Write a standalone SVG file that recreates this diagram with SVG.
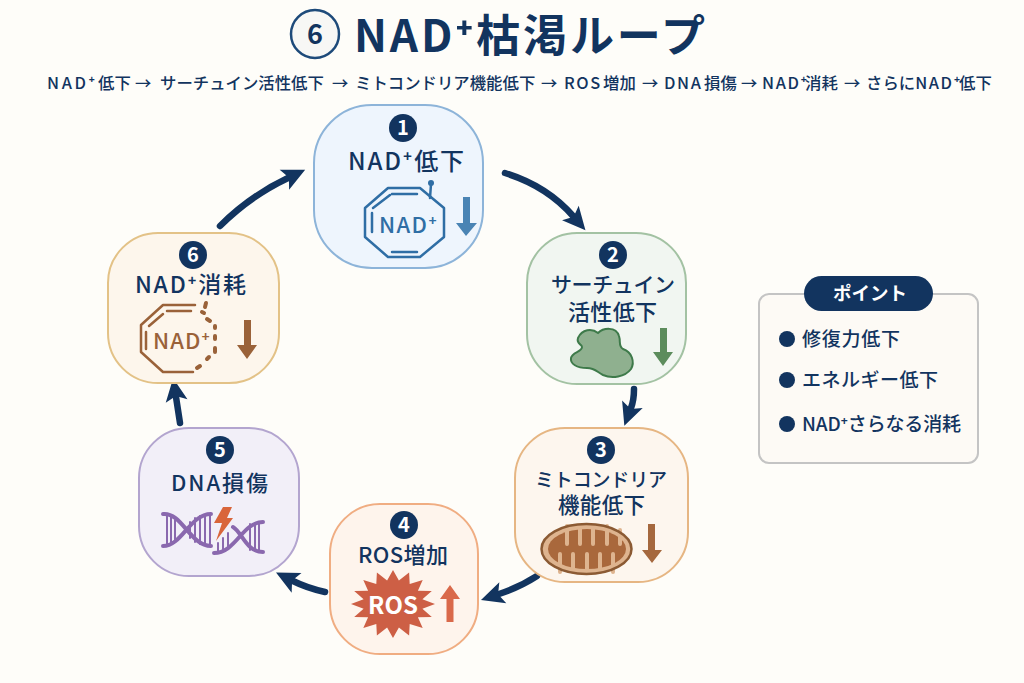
<svg xmlns="http://www.w3.org/2000/svg" width="1024" height="683" viewBox="0 0 1024 683">
<style>
text{font-family:"Noto Sans CJK JP","Noto Sans",sans-serif;fill:#12345f}
.lb{font-weight:500}
.sup{font-size:1.15em;baseline-shift:-0.12em}
.n{font-size:20px;font-weight:700;fill:#fff;text-anchor:middle}
.c{fill:#12345f}
.card{stroke-width:2}
.li{font-size:19px;font-weight:500}
.ln{fill:none;stroke-linecap:round;stroke-linejoin:round}
.conn{fill:none;stroke:#12345f;stroke-width:6.500;stroke-linecap:round;marker-end:url(#ah)}
.ic{font-weight:500}
.lat{letter-spacing:1.6px}
.lat2{letter-spacing:2.6px}
</style>
<defs>
<marker id="ah" markerUnits="userSpaceOnUse" markerWidth="26" markerHeight="26" refX="5" refY="13" orient="auto"><path d="M1,2 L24,13 L1,24 L6,13 Z" fill="#12345f"/></marker>
</defs>
<rect width="1024" height="683" fill="#fefdf9"/>
<g id="title">
<circle cx="315" cy="34" r="24" fill="#f7f7f5" stroke="#1d4a7a" stroke-width="2.500"/>
<text x="315" y="44" font-size="27" font-weight="700" text-anchor="middle">6</text>
<text x="354" y="52" font-size="44" font-weight="700" textLength="351">NAD<tspan class="sup">⁺</tspan>枯渇ループ</text>
<text y="89" font-size="16.400" font-weight="500"><tspan x="47" class="lat2">NAD</tspan><tspan class="sup">⁺</tspan><tspan x="98">低下 </tspan><tspan x="135">→ </tspan><tspan x="160">サーチュイン活性低下 </tspan><tspan x="332">→ </tspan><tspan x="355">ミトコンドリア機能低下 </tspan><tspan x="541">→ </tspan><tspan x="564" class="lat">ROS</tspan><tspan x="603">増加 </tspan><tspan x="642">→ </tspan><tspan x="664" class="lat">DNA</tspan><tspan x="704">損傷 </tspan><tspan x="741">→ </tspan><tspan x="762" class="lat">NAD</tspan><tspan class="sup">⁺</tspan><tspan x="805">消耗 </tspan><tspan x="844">→ </tspan><tspan x="866">さらに</tspan><tspan class="lat">NAD</tspan><tspan class="sup">⁺</tspan><tspan x="959">低下</tspan></text>
</g>
<g id="connectors">
<path class="conn" d="M505,173 Q547,186 573,216"/>
<path class="conn" d="M634,389 Q634,400 631,408"/>
<path class="conn" d="M537,576 Q520,587 499,594"/>
<path class="conn" d="M325,592 Q307,588 293,581"/>
<path class="conn" d="M180,423 Q178,410 176,397"/>
<path class="conn" d="M220,226 Q250,196 288,178"/>
</g>
<g id="node-1">
<rect class="card" x="314" y="105" width="169" height="163" rx="58" fill="#eef5fd" stroke="#8db4d9"/>
<circle class="c" cx="403" cy="128" r="14"/><text class="n" x="403" y="135">1</text>
<text class="lb" x="348" y="170" font-size="24" textLength="116">NAD<tspan class="sup">⁺</tspan>低下</text>
<g class="ln" stroke="#2f6ea5" stroke-width="2.500">
<path d="M388,188H420L444,208V237L420,257H388L365,237V208Z"/>
<path d="M392,194H417M392,252H417M372,213V232M373,208L390,195M430,198L431,184"/>
</g>
<circle cx="431" cy="183" r="3" fill="#2f6ea5"/>
<text class="ic" x="379" y="233" font-size="22" textLength="58" style="fill:#2f6ea5">NAD<tspan class="sup">⁺</tspan></text>
<path d="M463,197H470V223H477L466,236L456,223H463Z" fill="#4a84b4"/>
</g>
<g id="node-2">
<rect class="card" x="527" y="233" width="159" height="151" rx="50" fill="#f1f6f1" stroke="#a3c2a3"/>
<circle class="c" cx="613" cy="255" r="14"/><text class="n" x="613" y="262">2</text>
<text class="lb" x="551" y="292" font-size="21" textLength="124">サーチュイン</text>
<text class="lb" x="568" y="320" font-size="22" textLength="89">活性低下</text>
<path d="M578,338C582,329 592,328 598,333C603,328 616,326 619,336C621,342 618,346 623,349C632,352 635,362 631,369C625,377 612,379 603,375C597,372 595,368 587,368C577,368 570,364 571,358C572,352 582,352 582,347C582,344 576,344 578,338Z" fill="#8fb08f" stroke="#3e7a4a" stroke-width="2"/>
<path d="M660,328H667V352H673L663,366L653,352H660Z" fill="#5c8c5c"/>
</g>
<g id="node-3">
<rect class="card" x="515" y="428" width="173" height="154" rx="50" fill="#fdf6ee" stroke="#e6b683"/>
<circle class="c" cx="601" cy="450" r="14"/><text class="n" x="601" y="457">3</text>
<text class="lb" x="535" y="487" font-size="19" textLength="132">ミトコンドリア</text>
<text class="lb" x="558" y="513" font-size="21.500" textLength="87">機能低下</text>
<ellipse cx="586.500" cy="549" rx="45" ry="25" fill="#deb48f"/>
<ellipse cx="587" cy="549" rx="39" ry="20" fill="#a9683c"/>
<path d="M567,526V544M580,526V544M593,526V544M607,526V544M620,530V544M560,572V554M573,572V554M587,572V554M600,572V554M613,572V554" stroke="#deb48f" stroke-width="4" stroke-linecap="round" fill="none"/>
<ellipse cx="586.500" cy="549" rx="45" ry="25" fill="none" stroke="#8b5a33" stroke-width="2.500"/>
<path d="M648,524H655V550H662L652,563L642,550H648Z" fill="#a5683e"/>
</g>
<g id="node-4">
<rect class="card" x="330" y="504" width="148" height="150" rx="50" fill="#fef4ec" stroke="#f0ad82"/>
<circle class="c" cx="404" cy="525" r="14"/><text class="n" x="404" y="532">4</text>
<text class="lb" x="358" y="563" font-size="22" textLength="90">ROS増加</text>
<path d="M435,604L422.400,608.700L431.800,617L417.900,617.300L422.700,628L409.700,624L409.100,635.400L398.900,627.500L393,638L387.100,627.500L376.900,635.400L376.300,624L363.300,628L368.100,617.300L354.200,617L363.600,608.700L351,604L363.600,599.300L354.200,591L368.100,590.700L363.300,580L376.300,584L376.900,572.600L387.100,580.500L393,570L398.900,580.500L409.100,572.600L409.700,584L422.700,580L417.900,590.700L431.800,591L422.400,599.300Z" fill="#cd5f45"/>
<text x="393" y="614" font-size="24" text-anchor="middle" style="fill:#fff;font-weight:700">ROS</text>
<path d="M450,585L460,599H453.500V622H446.500V599H440Z" fill="#d9694a"/>
</g>
<g id="node-5">
<rect class="card" x="139" y="428" width="160" height="148" rx="50" fill="#f2eff8" stroke="#b3a5cf"/>
<circle class="c" cx="220" cy="450" r="14"/><text class="n" x="220" y="457">5</text>
<text class="lb" x="171" y="491" font-size="22" textLength="97">DNA損傷</text>
<g class="ln" stroke="#8a68ae" stroke-width="4">
<path d="M163,514C182,512 190,546 211,546M163,546C182,546 190,514 211,514"/>
<path d="M214,553C236,553 242,522 263,522M233,527C242,532 246,552 263,552"/>
</g>
<g class="ln" stroke="#8a68ae" stroke-width="2">
<path d="M167,516V544M171,517V543M175,520V540M190,522V538M195,518V542M200,516V544M205,515V545M210,515V545M218,552V543M223,551V538M228,548V533M250,524V550M255,523V551M259,523V551"/>
</g>
<path d="M223,507H232L227,518H233L216,541L222,523H214Z" fill="#d9653a"/>
</g>
<g id="node-6">
<rect class="card" x="108" y="233" width="171" height="150" rx="50" fill="#fdf6ec" stroke="#e3c287"/>
<circle class="c" cx="193" cy="255" r="14"/><text class="n" x="193" y="262">6</text>
<text class="lb" x="135" y="293" font-size="23" textLength="111">NAD<tspan class="sup">⁺</tspan>消耗</text>
<g class="ln" stroke="#9a6239" stroke-width="2.500">
<path d="M195,305H163L141,325V352L163,372H193M167,311H191M149,326L163,314M146,332V349"/>
<path d="M206,303L205,307M202,312L204,313M207,319L210,321M215,326V328M215,336V339M215,348V352M209,357L207,359M200,366L197,368" stroke-width="4"/>
</g>
<text class="ic" x="153" y="349" font-size="22" textLength="57" style="fill:#9a6239">NAD<tspan class="sup">⁺</tspan></text>
<path d="M244,320H251V345H257L247,359L237,345H244Z" fill="#9a6239"/>
</g>
<g id="legend">
<rect x="759" y="294" width="219" height="169" rx="10" fill="#fdfaf5" stroke="#c4c4c4" stroke-width="2"/>
<rect x="804" y="276" width="129" height="35" rx="17.500" fill="#12345f"/>
<text x="833" y="300" font-size="18.500" font-weight="700" textLength="74" style="fill:#fff">ポイント</text>
<circle class="c" cx="787" cy="339" r="8"/><text class="li" x="802" y="346" textLength="98">修復力低下</text>
<circle class="c" cx="787" cy="380" r="8"/><text class="li" x="802" y="387" textLength="136">エネルギー低下</text>
<circle class="c" cx="787" cy="424" r="8"/><text class="li" x="802" y="431" textLength="159">NAD<tspan class="sup">⁺</tspan>さらなる消耗</text>
</g>
</svg>
